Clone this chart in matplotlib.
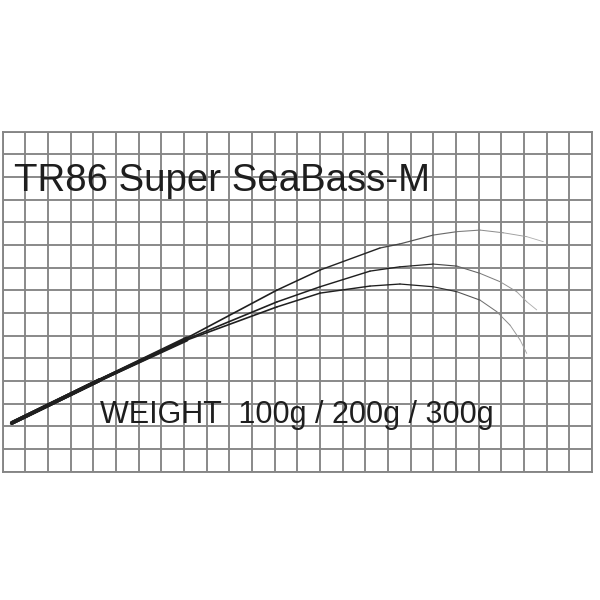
import numpy as np
import matplotlib
matplotlib.use("Agg")
import matplotlib.pyplot as plt
from matplotlib.collections import LineCollection

plt.rcParams['font.family'] = ['Liberation Sans', 'DejaVu Sans']

title = "TR86 Super SeaBass-M"
weight_label = "WEIGHT  100g / 200g / 300g"

# grid size in cells
n_cols = 26
n_rows = 15

# rod bend curves (grid units), one per weight
x_100g = [0.41, 4.30, 8.13, 12.10, 14.01, 16.65, 17.53, 19.00, 20.04, 21.06, 22.09, 23.12, 23.85]
y_100g = [2.15, 4.05, 5.90, 8.01, 8.90, 9.87, 10.05, 10.44, 10.59, 10.66, 10.54, 10.37, 10.15]

x_200g = [0.41, 4.30, 8.13, 12.10, 14.01, 16.21, 17.53, 19.00, 20.04, 21.06, 21.95, 22.68, 23.12, 23.56]
y_200g = [2.15, 4.05, 5.85, 7.49, 8.16, 8.85, 9.04, 9.16, 9.07, 8.75, 8.38, 7.94, 7.50, 7.14]

x_300g = [0.41, 4.30, 8.13, 12.10, 14.01, 16.21, 17.53, 19.00, 20.04, 21.06, 21.80, 22.39, 22.83, 23.12]
y_300g = [2.15, 4.05, 5.81, 7.27, 7.88, 8.19, 8.28, 8.16, 7.94, 7.57, 7.06, 6.46, 5.81, 5.22]

# (x, y, x where fading starts, final grey level)
curves = [(x_100g, y_100g, 15.0, 0.72), (x_200g, y_200g, 18.0, 0.75), (x_300g, y_300g, 19.0, 0.78)]

fig = plt.figure(figsize=(6, 6), dpi=100)
ax = fig.add_axes([0.0042, 0.2138, 0.9825, 0.5667])
ax.set_xlim(0, n_cols)
ax.set_ylim(0, n_rows)

ax.set_xticks(range(n_cols + 1))
ax.set_yticks(range(n_rows + 1))
ax.tick_params(length=0, labelbottom=False, labelleft=False)
ax.grid(True, color='#858585', lw=1.35)
ax.set_axisbelow(True)
for s in ax.spines.values():
    s.set_color('#858585')
    s.set_linewidth(1.35)

for xs, ys, fade_from, fade_to in curves:
    pts = np.column_stack([xs, ys])
    segs = np.stack([pts[:-1], pts[1:]], axis=1)
    xm = segs[:, :, 0].mean(axis=1)
    widths = np.interp(xm, [0, 6, 10, 16, 24], [3.0, 2.4, 1.2, 1.0, 0.6])
    grey = np.interp(xm, [fade_from, 24], [0.12, fade_to])
    cols = [(g, g, g) for g in grey]
    lc = LineCollection(segs, linewidths=widths, colors=cols, capstyle='round',
                        joinstyle='round', zorder=3)
    ax.add_collection(lc)

ax.text(0.51, 12.38, title, fontsize=27.6, color='#1e1e1e', va='baseline', ha='left', zorder=4)
ax.text(4.30, 2.15, weight_label, fontsize=22, color='#1e1e1e', va='baseline', ha='left', zorder=4)

fig.savefig("out.png", dpi=100, facecolor='white')
